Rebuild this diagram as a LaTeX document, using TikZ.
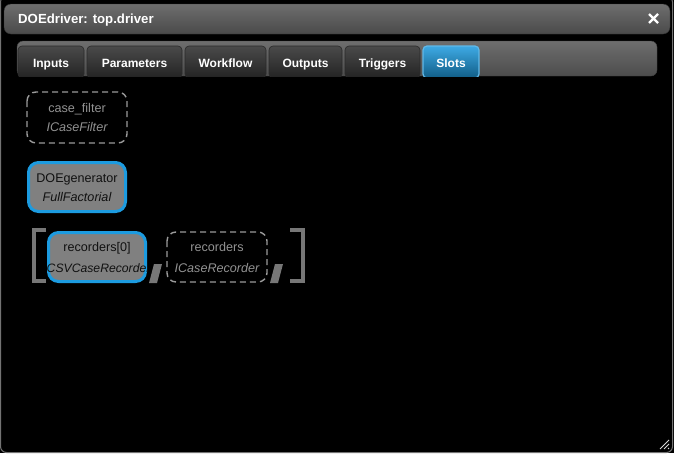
\documentclass[tikz,border=0pt]{standalone}
\usepackage{fontspec}
\setmainfont{Liberation Sans}
\begin{document}
\begin{tikzpicture}[x=1pt,y=-1pt,
  tabbox/.style={rounded corners=4pt, top color=tabtop, bottom color=tabbot, draw=tabedge, line width=0.6pt},
  tabtext/.style={text=white, font=\bfseries\fontsize{12}{14}\selectfont, inner sep=0pt, anchor=base},
  slotdash/.style={draw=dashgray, dashed, dash pattern=on 6pt off 4pt, line width=1.4pt, rounded corners=9pt},
  slotfull/.style={draw=slotblue, fill=nodegray, line width=3pt, rounded corners=10pt},
  dashtext/.style={text=dashtxt, inner sep=0pt, anchor=base, font=\fontsize{12.6}{14}\selectfont},
  fulltext/.style={text=fulltxt, inner sep=0pt, anchor=base, font=\fontsize{12.6}{14}\selectfont},
  brack/.style={draw=brackgray, line width=4pt},
]
\definecolor{tabtop}{HTML}{4A4A4A}
\definecolor{tabbot}{HTML}{232323}
\definecolor{tabedge}{HTML}{2A2A2A}
\definecolor{dashgray}{HTML}{9A9A9A}
\definecolor{dashtxt}{HTML}{929292}
\definecolor{fulltxt}{HTML}{111111}
\definecolor{nodegray}{HTML}{808080}
\definecolor{slotblue}{HTML}{1C9BE0}
\definecolor{brackgray}{HTML}{777777}
% background window
\useasboundingbox (0,0) rectangle (674,453);
\fill[black] (0,0) rectangle (674,453);
\draw[draw=black!55!white, line width=1pt, rounded corners=6pt] (0.5,-4) rectangle (672.5,452.5);
% title bar
\shade[rounded corners=7pt, top color=black!57!white, bottom color=black!71!white, draw=black!80!white] (4,4) rectangle (670,34);
\node[tabtext, anchor=base west, font=\bfseries\fontsize{13.2}{15}\selectfont] (title) at (18,23.5) {DOEdriver: top.driver};
\draw[white, line width=2.4pt] (649,14) -- (658,23) (649,23) -- (658,14);
\coordinate (closeicon) at (653.5,18.5);
% tab bar
\shade[rounded corners=6pt, top color=black!57!white, bottom color=black!70!white, draw=black!75!white] (17,41) rectangle (657,76);
\shade[tabbox] (18,46) rectangle (84,78);
\shade[tabbox] (87,46) rectangle (182,78);
\shade[tabbox] (185,46) rectangle (266,78);
\shade[tabbox] (269,46) rectangle (342,78);
\shade[tabbox] (345,46) rectangle (420,78);
\shade[rounded corners=4pt, top color=slotblue!85!white, bottom color=slotblue!60!black, draw=slotblue!70!white, line width=1.2pt] (423,46) rectangle (479,78);
\fill[black] (10,77) rectangle (664,80);
\node[tabtext] (tinputs) at (51,67) {Inputs};
\node[tabtext] (tparams) at (134.5,67) {Parameters};
\node[tabtext] (tworkflow) at (225.5,67) {Workflow};
\node[tabtext] (toutputs) at (305.5,67) {Outputs};
\node[tabtext] (ttriggers) at (382.5,67) {Triggers};
\node[tabtext] (tslots) at (451,67) {Slots};
% slots
\draw[slotdash] (27,92) rectangle (127,143);
\node[dashtext] (cf1) at (77,112) {case\_filter};
\node[dashtext] (cf2) at (77,131.5) {\itshape ICaseFilter};
\draw[slotfull] (28.5,162.5) rectangle (125.5,211.5);
\node[fulltext] (dg1) at (77,182) {DOEgenerator};
\node[fulltext] (dg2) at (77,201.5) {\itshape FullFactorial};
% list
\draw[brack] (46,230) -- (34,230) -- (34,281) -- (46,281);
\draw[slotfull] (48.5,232.5) rectangle (145.5,281.5);
\node[fulltext] (r01) at (97,251.5) {recorders[0]};
\begin{scope}
\clip (40,255) rectangle (147,283);
\node[fulltext, anchor=base west, font=\itshape\fontsize{12.2}{14}\selectfont] (r02) at (46.5,272) {CSVCaseRecorder};
\end{scope}
\fill[brackgray] (154,264) -- (162,264) -- (157,283) -- (149,283) -- cycle;
\draw[slotdash] (167,232) rectangle (267,282);
\node[dashtext] (rr1) at (217,251.5) {recorders};
\node[dashtext] (rr2) at (217,272) {\itshape ICaseRecorder};
\fill[brackgray] (275,264) -- (283,264) -- (278,283) -- (270,283) -- cycle;
\draw[brack] (290,230) -- (303,230) -- (303,281) -- (290,281);
% resize grip
\draw[white!85!black, line width=0.8pt] (660,449) -- (669,440) (664,449) -- (669,444) (668,449) -- (669,448);
\end{tikzpicture}
\end{document}
